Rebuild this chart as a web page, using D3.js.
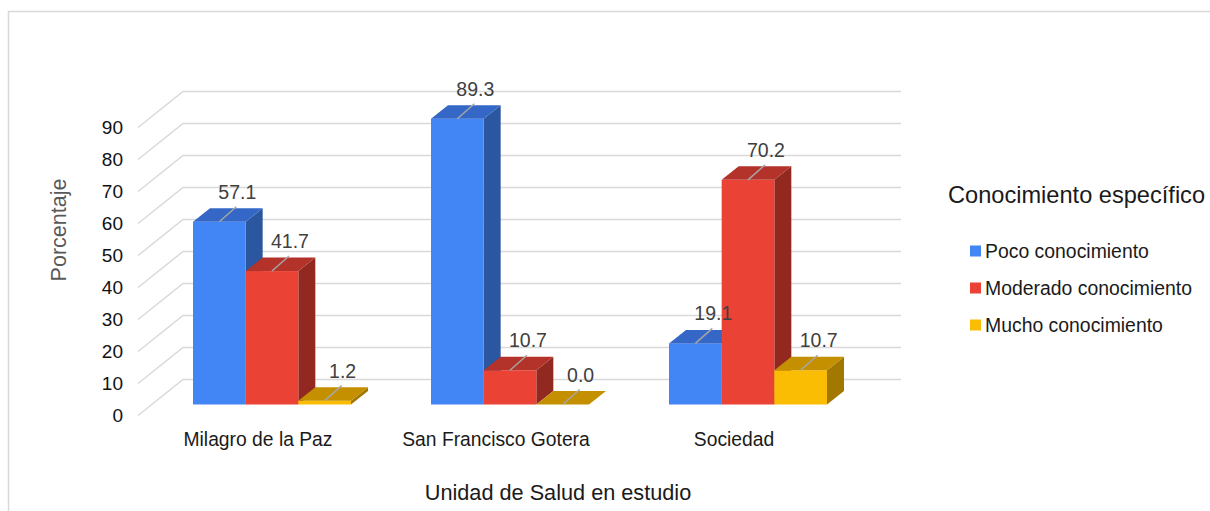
<!DOCTYPE html>
<html>
<head>
<meta charset="utf-8">
<script src="https://cdn.jsdelivr.net/npm/d3@7"></script>
<style>
  body { margin: 0; background: #fff; }
  text { font-family: "Liberation Sans", Arial, sans-serif; }
</style>
</head>
<body>
<div class="main"></div>
<script>
// Data
const categories = ['Milagro de la Paz', 'San Francisco Gotera', 'Sociedad'];
const seriesNames = ['Poco conocimiento', 'Moderado conocimiento', 'Mucho conocimiento'];
const poco = [57.1, 89.3, 19.1];
const moderado = [41.7, 10.7, 70.2];
const mucho = [1.2, 0.0, 10.7];
const yTicks = [0, 10, 20, 30, 40, 50, 60, 70, 80, 90];

const seriesValues = [poco, moderado, mucho];

//Variables
const width = 1210,
      height = 511,
      depth = {x: 17, y: -13.5},      // bar depth
      wall = {x: 31, y: -25},         // bar front plane -> back wall
      front = {x: -45, y: 36};        // back wall -> front tick end

const colors = [
  {front: '#4285f4', top: '#3467c6', side: '#2b56a0'},
  {front: '#ea4335', top: '#b3322a', side: '#922921'},
  {front: '#fbbc04', top: '#c49000', side: '#a27800'}
];

//Create Canvas
const svg = d3.select('.main')
              .append('svg')
              .attr('width', width)
              .attr('height', height);

svg.append('rect')
   .attr('x', 8.5).attr('y', 11.5)
   .attr('width', 1220).attr('height', 520)
   .attr('fill', 'none')
   .attr('stroke', '#d9d9d9')
   .attr('stroke-width', 1.5);

//Create Scales
const yScale = d3.scaleLinear()
                 .domain([0, 90])
                 .range([404.5, 116.5]);

const x0 = d3.scaleBand()
             .domain(categories)
             .range([153, 867])
             .paddingInner(80 / 238)
             .paddingOuter(40 / 238);

const x1 = d3.scaleBand()
             .domain(seriesNames)
             .range([0, x0.bandwidth()]);

//Back wall gridlines
const backX0 = 183, backX1 = 901;
const grid = svg.append('g');
yTicks.forEach(v => {
  const yb = yScale(v) + wall.y;
  grid.append('path')
      .attr('d', `M${backX0 + front.x},${yb + front.y}L${backX0},${yb}L${backX1},${yb}`)
      .attr('fill', 'none')
      .attr('stroke', '#d9d9d9')
      .attr('stroke-width', 1.5);
});

//Y axis labels
const yAxis = svg.append('g')
                 .attr('transform', `translate(123, ${wall.y + front.y})`)
                 .call(d3.axisLeft(yScale).tickValues(yTicks).tickSize(0).tickPadding(0));
yAxis.select('.domain').remove();
yAxis.selectAll('text')
     .style('font-family', '"Liberation Sans", Arial, sans-serif')
     .style('font-size', '19px')
     .attr('fill', '#111');

//Bars
const bars = [];
categories.forEach((c, i) => {
  seriesNames.forEach((s, j) => {
    bars.push({cat: c, series: s, j: j, value: seriesValues[j][i]});
  });
});

const barG = svg.append('g');
bars.forEach(d => {
  const x = x0(d.cat) + x1(d.series);
  const w = x1.bandwidth();
  const yb = yScale(0);
  const yt = yScale(d.value);
  const col = colors[d.j];
  const g = barG.append('g');
  // side
  g.append('path')
   .attr('d', `M${x + w},${yt}L${x + w + depth.x},${yt + depth.y}L${x + w + depth.x},${yb + depth.y}L${x + w},${yb}Z`)
   .attr('fill', col.side);
  // front
  if (yb - yt > 0) {
    g.append('rect')
     .attr('x', x).attr('y', yt)
     .attr('width', w).attr('height', yb - yt)
     .attr('fill', col.front);
  }
  // top
  g.append('path')
   .attr('d', `M${x},${yt}L${x + depth.x},${yt + depth.y}L${x + w + depth.x},${yt + depth.y}L${x + w},${yt}Z`)
   .attr('fill', col.top);
});

//Data labels with leader lines
const labelG = svg.append('g');
bars.forEach(d => {
  const cx = x0(d.cat) + x1(d.series) + x1.bandwidth() / 2;
  const yt = yScale(d.value);
  const ex = cx + 17, ey = yt - 15;
  labelG.append('line')
        .attr('x1', cx).attr('y1', yt)
        .attr('x2', ex).attr('y2', ey)
        .attr('stroke', '#a6a6a6')
        .attr('stroke-width', 1.5);
  labelG.append('text')
        .attr('x', ex + 1)
        .attr('y', ey - 8)
        .attr('text-anchor', 'middle')
        .style('font-size', '19.5px')
        .attr('fill', '#404040')
        .text(d.value.toFixed(1));
});

//Category labels
svg.append('g')
   .selectAll('text')
   .data(categories)
   .enter()
   .append('text')
   .attr('x', d => x0(d) + x0.bandwidth() / 2 - 14)
   .attr('y', 446)
   .attr('text-anchor', 'middle')
   .style('font-size', '19.3px')
   .attr('fill', '#1a1a1a')
   .text(d => d);

//Axis titles
svg.append('text')
   .attr('x', 558).attr('y', 500)
   .attr('text-anchor', 'middle')
   .style('font-size', '21.7px')
   .attr('fill', '#1a1a1a')
   .text('Unidad de Salud en estudio');

svg.append('text')
   .attr('transform', 'translate(66, 230) rotate(-90)')
   .attr('text-anchor', 'middle')
   .style('font-size', '21.5px')
   .attr('fill', '#595959')
   .text('Porcentaje');

//Legend
const legend = svg.append('g');
legend.append('text')
      .attr('x', 948).attr('y', 203)
      .style('font-size', '23.6px')
      .attr('fill', '#1a1a1a')
      .text('Conocimiento específico');

seriesNames.forEach((s, j) => {
  const cy = 251 + j * 37;
  legend.append('rect')
        .attr('x', 970).attr('y', cy - 5.5)
        .attr('width', 11).attr('height', 11)
        .attr('fill', colors[j].front);
  legend.append('text')
        .attr('x', 985).attr('y', cy + 7)
        .style('font-size', '19.4px')
        .attr('fill', '#1a1a1a')
        .text(s);
});
</script>
</body>
</html>
